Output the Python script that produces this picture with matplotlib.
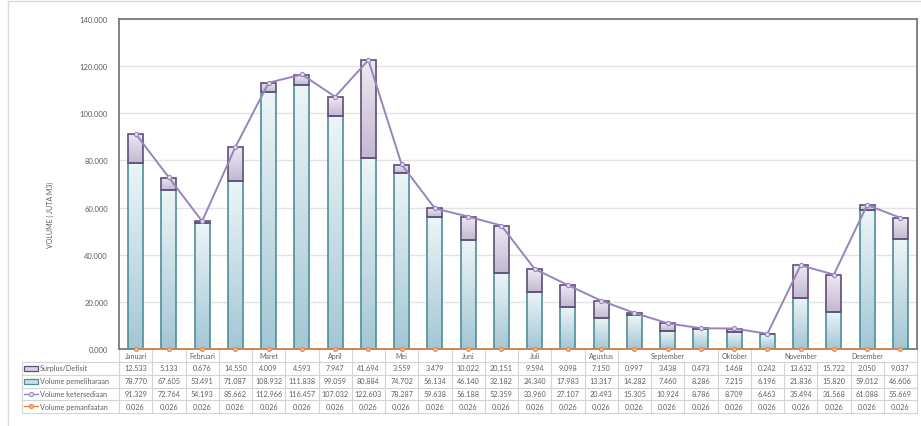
import numpy as np
import matplotlib
matplotlib.use("Agg")
import matplotlib.pyplot as plt
from matplotlib.colors import LinearSegmentedColormap
from matplotlib.lines import Line2D
from matplotlib.patches import Rectangle

plt.rcParams['font.family'] = ['Lato', 'DejaVu Sans']

# ---- data (juta m3) ----
month_labels = ["Januari", "", "Februari", "", "Maret", "", "April", "", "Mei", "",
                "Juni", "", "Juli", "", "Agustus", "", "September", "", "Oktober", "",
                "November", "", "Desember", ""]
surplus = [12.533, 5.133, 0.676, 14.550, 4.009, 4.593, 7.947, 41.694, 3.559, 3.479,
           10.022, 20.151, 9.594, 9.098, 7.150, 0.997, 3.438, 0.473, 1.468, 0.242,
           13.632, 15.722, 2.050, 9.037]
pemeliharaan = [78.770, 67.605, 53.491, 71.087, 108.932, 111.838, 99.059, 80.884, 74.702, 56.134,
                46.140, 32.182, 24.340, 17.983, 13.317, 14.282, 7.460, 8.286, 7.215, 6.196,
                21.836, 15.820, 59.012, 46.606]
ketersediaan = [91.329, 72.764, 54.193, 85.662, 112.966, 116.457, 107.032, 122.603, 78.287, 59.638,
                56.188, 52.359, 33.960, 27.107, 20.493, 15.305, 10.924, 8.786, 8.709, 6.463,
                35.494, 31.568, 61.088, 55.669]
pemanfaatan = [0.026] * 24
series_names = ["Surplus/Defisit", "Volume pemeliharaan", "Volume ketersediaan", "Volume pemanfaatan"]
y_ticks = [0, 20, 40, 60, 80, 100, 120, 140]

# ---- style ----
TXT = "#5f5f5f"
GRID = "#e3e3e3"
TBL = "#d4d4d4"
BLUE_TOP, BLUE_BOT, BLUE_EDGE = "#edf5f7", "#a3c7d5", "#4f8e9b"
PURP_TOP, PURP_BOT, PURP_EDGE = "#eeeaf2", "#c3b8d2", "#5e4e78"
LINE_P = "#9685bd"
LINE_O = "#e2864a"

W, H = 921, 427
fig = plt.figure(figsize=(W / 100, H / 100), dpi=100)
ax_l, ax_r, ax_t, ax_b = 119, 917, 20, 350
ax = fig.add_axes([ax_l / W, 1 - ax_b / H, (ax_r - ax_l) / W, (ax_b - ax_t) / H])

n = len(month_labels)
x = np.arange(n)
bw = 0.45


def gradient_bars(bars, top, bottom):
    cmap = LinearSegmentedColormap.from_list("g", [bottom, top])
    grad = np.linspace(0, 1, 128).reshape(-1, 1)
    for b in bars:
        bx, by, bwid, bh = b.get_x(), b.get_y(), b.get_width(), b.get_height()
        im = ax.imshow(grad, cmap=cmap, extent=(bx, bx + bwid, by, by + bh),
                       origin="lower", aspect="auto", zorder=2, interpolation="bilinear")
        im.set_clip_path(b)


b1 = ax.bar(x, pemeliharaan, width=bw, facecolor="none", edgecolor=BLUE_EDGE, linewidth=1.2, zorder=3)
b2 = ax.bar(x, surplus, width=bw, bottom=pemeliharaan, facecolor="none", edgecolor=PURP_EDGE,
            linewidth=1.2, zorder=3)
gradient_bars(b1, BLUE_TOP, BLUE_BOT)
gradient_bars(b2, PURP_TOP, PURP_BOT)

ax.plot(x, ketersediaan, color=LINE_P, lw=1.4, marker="o", ms=3, mfc="#e4def0", mec=LINE_P,
        mew=0.8, zorder=4)
ax.plot(x, pemanfaatan, color=LINE_O, lw=1.2, marker="o", ms=3, mfc="#f1b487", mec=LINE_O,
        mew=0.6, zorder=4, clip_on=False)

ax.set_xlim(-0.5, n - 0.5)
ax.set_ylim(0, 140)
ax.set_yticks(y_ticks)
ax.set_yticklabels([f"{v:.3f}" for v in y_ticks], fontsize=5.5, color=TXT)
ax.set_xticks([])
ax.tick_params(axis="y", length=0, pad=8)
ax.yaxis.grid(True, color=GRID, lw=1)
ax.set_axisbelow(True)
for s in ax.spines.values():
    s.set_color("#7a7a7a")
    s.set_linewidth(1.3)

fig.text(50 / W, 1 - 215 / H, "VOLUME ( JUTA M3)", rotation=90, fontsize=5, color=TXT,
         ha="center", va="center")

# ---- data table below the axes ----
ah = ax_b - ax_t
aw = ax_r - ax_l


def yax(px):
    return (ax_b - px) / ah


def xax(px):
    return (px - ax_l) / aw


rows_px = [350, 362.5, 375.5, 388.5, 401, 413.5]
leg_left = xax(22)
line_kw = dict(transform=ax.transAxes, clip_on=False, color=TBL, lw=0.8, zorder=1)

# horizontal rules
ax.plot([0, 1], [yax(rows_px[1])] * 2, **line_kw)
for r in rows_px[2:]:
    ax.plot([leg_left, 1], [yax(r)] * 2, **line_kw)
ax.plot([leg_left, 0], [yax(rows_px[1])] * 2, **line_kw)
# vertical rules
hidden_header = {16, 17, 20, 21, 22, 23}
for k in range(n + 1):
    xf = k / n
    ax.plot([xf, xf], [yax(rows_px[1]), yax(rows_px[-1])], **line_kw)
    if k not in hidden_header:
        ax.plot([xf, xf], [yax(rows_px[0]), yax(rows_px[1])], **line_kw)
ax.plot([leg_left, leg_left], [yax(rows_px[1]), yax(rows_px[-1])], **line_kw)

ytr = ax.get_xaxis_transform()
for i, lab in enumerate(month_labels):
    if lab:
        ax.text(i, yax((rows_px[0] + rows_px[1]) / 2), lab, transform=ytr, ha="center",
                va="center", fontsize=5, color=TXT, clip_on=False)

table_rows = [surplus, pemeliharaan, ketersediaan, pemanfaatan]
for r, vals in enumerate(table_rows):
    yc = yax((rows_px[r + 1] + rows_px[r + 2]) / 2)
    for i, v in enumerate(vals):
        ax.text(i, yc, f"{v:.3f}", transform=ytr, ha="center", va="center", fontsize=5.2,
                color=TXT, clip_on=False)
    ax.text(xax(40), yc, series_names[r], transform=ax.transAxes, ha="left", va="center",
            fontsize=5.2, color=TXT, clip_on=False)

# legend keys in the table
def key_rect(r, face, edge):
    yc = yax((rows_px[r + 1] + rows_px[r + 2]) / 2)
    ax.add_patch(Rectangle((xax(24), yc - 2.5 / ah), 14 / aw, 5 / ah, transform=ax.transAxes,
                           facecolor=face, edgecolor=edge, lw=0.9, clip_on=False))


def key_line(r, color, marker, mfc):
    yc = yax((rows_px[r + 1] + rows_px[r + 2]) / 2)
    ax.add_line(Line2D([xax(24), xax(38)], [yc, yc], transform=ax.transAxes, color=color, lw=1,
                       clip_on=False))
    ax.add_line(Line2D([xax(31)], [yc], transform=ax.transAxes, color=color, marker=marker,
                       ms=3, mfc=mfc, mew=0.7, clip_on=False))


key_rect(0, "#d9d1e3", PURP_EDGE)
key_rect(1, "#c8e0e8", BLUE_EDGE)
key_line(2, LINE_P, "o", "#e4def0")
key_line(3, LINE_O, "o", "#f1b487")

# outer chart frame
fig.add_artist(Line2D([8 / W, 1], [1 - 2 / H] * 2, color="#d9d9d9", lw=1, transform=fig.transFigure))
fig.add_artist(Line2D([8 / W] * 2, [0, 1 - 2 / H], color="#d9d9d9", lw=1, transform=fig.transFigure))

fig.savefig("out.png", dpi=100)
